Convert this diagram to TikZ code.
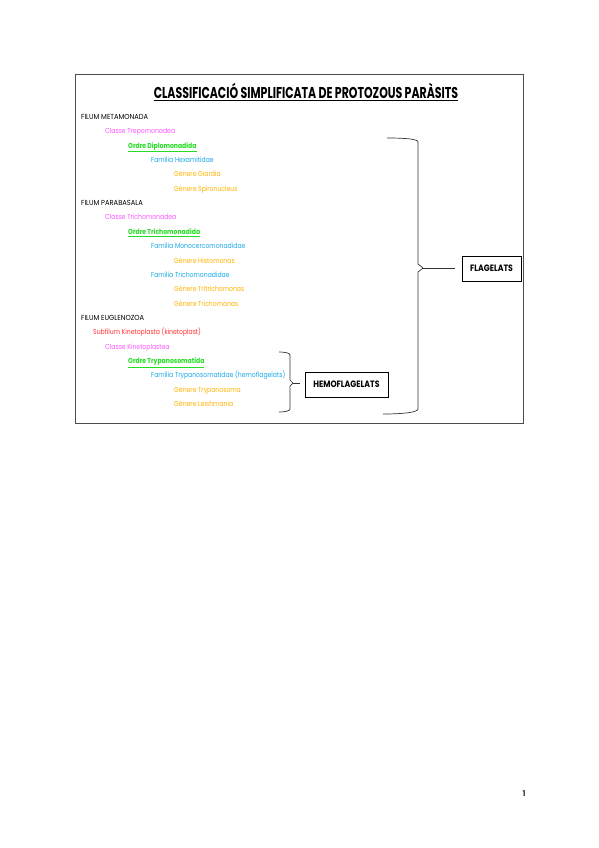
\documentclass[tikz,border=0pt]{standalone}
\usepackage{fontspec}
\setmainfont{Poppins}
\newfontfamily\smallfont[FakeStretch=0.85]{Poppins}
\newfontfamily\capsfont[FakeStretch=0.92]{Poppins}
\newfontfamily\titlefont[FakeStretch=0.7]{Poppins}
\definecolor{cfilum}{HTML}{000000}
\definecolor{cclasse}{HTML}{FF55FF}
\definecolor{cordre}{HTML}{22DD22}
\definecolor{cfam}{HTML}{1AA8E8}
\definecolor{cgen}{HTML}{FFB300}
\definecolor{csub}{HTML}{FF3030}
\begin{document}
\begin{tikzpicture}[x=1pt,y=-1pt,
  entry/.style={anchor=base west,inner sep=0pt,font=\smallfont\fontsize{7.2}{8}\selectfont},
  filum/.style={entry,text=cfilum,font=\capsfont\fontsize{7.3}{8}\selectfont},
  classe/.style={entry,text=cclasse},
  ordre/.style={entry,text=cordre},
  fam/.style={entry,text=cfam},
  gen/.style={entry,text=cgen},
  sub/.style={entry,text=csub},
  labelbox/.style={draw=black,line width=0.8pt,inner sep=0pt,font=\bfseries\smallfont\fontsize{9.2}{10}\selectfont},
  brace/.style={draw=black!80,line width=0.7pt,line join=round},
  frame/.style={draw=black!70,line width=0.9pt}]
\useasboundingbox (0,0) rectangle (599,848);
\draw[frame] (75,74) rectangle (523,423);
\node[anchor=base,inner sep=0pt,font=\bfseries\titlefont\fontsize{15.7}{17}\selectfont] (title) at (306,98.5) {\underline{CLASSIFICACIÓ SIMPLIFICATA DE PROTOZOUS PARÀSITS}};
\def\yy#1{119.5+14.35*#1}
\node[filum] (l0) at (81,{\yy{0}}) {FILUM METAMONADA};
\node[classe] (l1) at (105,{\yy{1}}) {Classe Trepomonadea};
\node[ordre] (l2) at (128,{\yy{2}}) {\underline{\bfseries Ordre Diplomonadida}};
\node[fam] (l3) at (151,{\yy{3}}) {Família Hexamitidae};
\node[gen] (l4) at (174,{\yy{4}}) {Gènere Giardia};
\node[gen] (l5) at (174,{\yy{5}}) {Gènere Spironucleus};
\node[filum] (l6) at (81,{\yy{6}}) {FILUM PARABASALA};
\node[classe] (l7) at (105,{\yy{7}}) {Classe Trichomonadea};
\node[ordre] (l8) at (128,{\yy{8}}) {\underline{\bfseries Ordre Trichomonadida}};
\node[fam] (l9) at (151,{\yy{9}}) {Família Monocercomonadidae};
\node[gen] (l10) at (174,{\yy{10}}) {Gènere Histomonas};
\node[fam] (l11) at (151,{\yy{11}}) {Família Trichomonadidae};
\node[gen] (l12) at (174,{\yy{12}}) {Gènere Tritrichomonas};
\node[gen] (l13) at (174,{\yy{13}}) {Gènere Trichomonas};
\node[filum] (l14) at (81,{\yy{14}}) {FILUM EUGLENOZOA};
\node[sub] (l15) at (93,{\yy{15}}) {Subfílum Kinetoplasta (kinetoplast)};
\node[classe] (l16) at (105,{\yy{16}}) {Classe Kinetoplastea};
\node[ordre] (l17) at (128,{\yy{17}}) {\underline{\bfseries Ordre Trypanosomatida}};
\node[fam] (l18) at (151,{\yy{18}}) {Família Trypanosomatidae (hemoflagelats)};
\node[gen] (l19) at (174,{\yy{19}}) {Gènere Trypanosoma};
\node[gen] (l20) at (174,{\yy{20}}) {Gènere Leishmania};
% label boxes
\node[labelbox,minimum width=59pt,minimum height=25pt] (flag) at (491.5,268.5) {FLAGELATS};
\node[labelbox,minimum width=83pt,minimum height=25pt] (hemo) at (346.5,384.5) {HEMOFLAGELATS};
% big brace
\coordinate (btip) at (423,268);
\draw[brace] (387,138) .. controls (405,138) and (418,139) .. (418,142) -- (418,264) -- (btip) -- (418,272) -- (418,409) .. controls (418,412) and (405,414) .. (383,414);
\draw[brace,shorten >=7pt] (btip) -- (flag.west |- btip);
% small brace
\coordinate (stip) at (293,383);
\draw[brace] (279,352) .. controls (285,352) and (290,353) .. (290,355) -- (290,380) -- (stip) -- (290,386) -- (290,409) .. controls (290,411) and (285,412) .. (279,412);
\draw[brace,shorten >=5pt] (stip) -- (hemo.west |- stip);
% page number
\node[anchor=base,inner sep=0pt,text=black!75,font=\bfseries\fontsize{8}{9}\selectfont] (page) at (524,796) {1};
\end{tikzpicture}
\end{document}
